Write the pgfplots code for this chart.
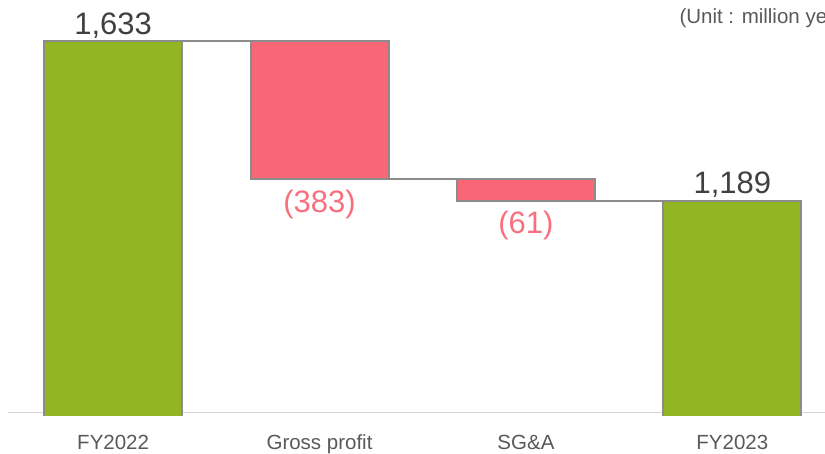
\documentclass[border=0pt]{standalone}
\usepackage{fontspec}
\setmainfont{Liberation Sans}
\usepackage{pgfplots}
\pgfplotsset{compat=1.18}

\definecolor{barGreen}{HTML}{92B523}
\definecolor{barRed}{HTML}{F96776}
\definecolor{lblRed}{HTML}{F8707E}
\definecolor{edgeGray}{HTML}{8C8C8C}
\definecolor{baseGray}{HTML}{D6D6D6}
\definecolor{valGray}{HTML}{404040}
\definecolor{tickGray}{HTML}{595959}

\begin{document}
\begin{tikzpicture}
\begin{axis}[
  at={(0pt,37pt)}, anchor=south west,
  scale only axis, width=825pt, height=416pt,
  xmin=-0.5482, xmax=3.449,
  ymin=593, ymax=1747.3,
  ybar stacked, bar width=0.6686,
  hide y axis,
  axis x line*=bottom,
  x axis line style={draw=none},
  major tick length=0pt,
  xtick={0,1,2,3},
  xticklabels={FY2022, Gross profit, SG\&A, FY2023},
  xticklabel style={anchor=base, yshift=-34pt,
    font=\fontsize{20.5}{24}\selectfont, text=tickGray},
]
% invisible base of the floating bars
\addplot[draw=none, fill=none, forget plot]
  coordinates {(0,0) (1,1250) (2,1189) (3,0)};
% totals
\addplot[fill=barGreen, draw=edgeGray, line width=2pt]
  coordinates {(0,1633) (1,0) (2,0) (3,1189)};
% decreases
\addplot[fill=barRed, draw=edgeGray, line width=2pt]
  coordinates {(0,0) (1,383) (2,61) (3,0)};

% connectors between bars
\draw[edgeGray, line width=1.7pt] (axis cs:0.3343,1633) -- (axis cs:0.6657,1633);
\draw[edgeGray, line width=1.7pt] (axis cs:1.3343,1250) -- (axis cs:1.6657,1250);
\draw[edgeGray, line width=1.7pt] (axis cs:2.3343,1189) -- (axis cs:2.6657,1189);

% baseline
\draw[baseGray, line width=1.6pt] (axis cs:-0.509,603) -- (axis cs:3.449,603);

% value labels
\node[anchor=base, yshift=7pt, font=\fontsize{31}{36}\selectfont, text=valGray]
  at (axis cs:0,1633) {1,633};
\node[anchor=base, yshift=7.5pt, font=\fontsize{31}{36}\selectfont, text=valGray]
  at (axis cs:3,1189) {1,189};
\node[anchor=base, yshift=-33pt, font=\fontsize{31}{36}\selectfont, text=lblRed]
  at (axis cs:1,1250) {(383)};
\node[anchor=base, yshift=-32.5pt, font=\fontsize{31}{36}\selectfont, text=lblRed]
  at (axis cs:2,1189) {(61)};
\end{axis}

\node[anchor=base west, font=\fontsize{20.5}{24}\selectfont, text=tickGray, inner sep=0pt]
  at (679.3pt,429pt) {(Unit : million yen)};

\pgfresetboundingbox
\useasboundingbox (0pt,0pt) rectangle (825pt,453pt);
\end{tikzpicture}
\end{document}
